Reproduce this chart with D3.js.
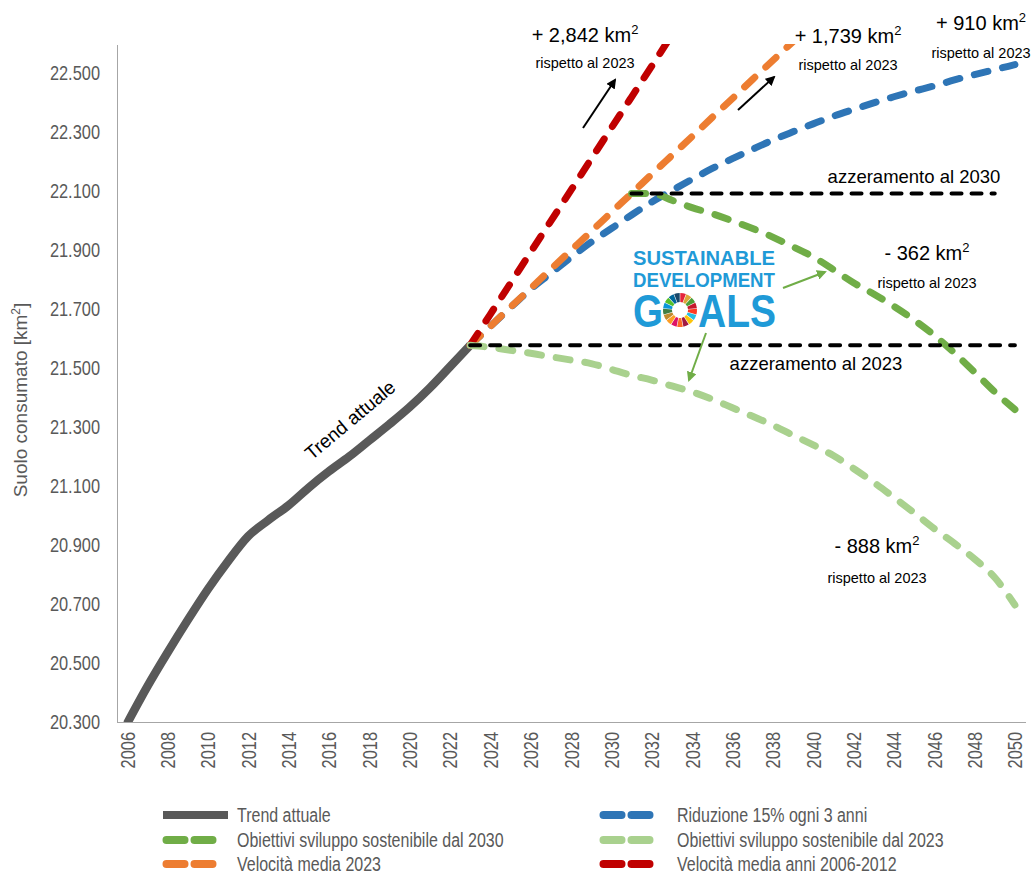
<!DOCTYPE html>
<html>
<head>
<meta charset="utf-8">
<script src="https://cdn.jsdelivr.net/npm/d3@7"></script>
<style>
body { margin: 0; background: #fff; }
svg text { font-family: "Liberation Sans", Arial, sans-serif; }
</style>
</head>
<body>
<div id="chart"></div>
<script>
// categories
var years = d3.range(2006, 2051);
var xTickYears = years.filter(function(d) { return d % 2 === 0; });
var yTicks = d3.range(20300, 22501, 200);

// Trend attuale 2006-2023 (km2)
var trendYears = d3.range(2006, 2024);
var trendValues = [20295, 20420, 20535, 20645, 20750, 20845, 20930, 20985, 21035, 21095,
                   21150, 21200, 21255, 21310, 21368, 21433, 21505, 21578];

// scenarios 2023-2050
var projYears = d3.range(2023, 2051);
var riduzione15 = [21578, 21642, 21706, 21768, 21822, 21876, 21928, 21974, 22020, 22064,
                   22103, 22141, 22178, 22211, 22243, 22274, 22302, 22329, 22355, 22378,
                   22400, 22421, 22440, 22458, 22478, 22496, 22513, 22530];
var velocita2023 = [21578, 21642, 21707, 21771, 21836, 21900, 21964, 22029, 22093, 22158,
                    22222, 22286, 22351, 22415, 22480, 22544, 22608, 22673, 22737, 22802,
                    22866, 22930, 22995, 23059, 23124, 23188, 23252, 23317];
var velocita0612 = [21578, 21683, 21788, 21894, 21999, 22104, 22210, 22315, 22420, 22525,
                    22631, 22736, 22841, 22947, 23052, 23157, 23262, 23368, 23473, 23578,
                    23684, 23789, 23894, 23999, 24105, 24210, 24315, 24420];
var sdg2023 = [21578, 21571, 21561, 21551, 21539, 21528, 21516, 21496, 21476, 21460,
               21440, 21420, 21395, 21366, 21337, 21307, 21273, 21240, 21204, 21160,
               21113, 21062, 21010, 20956, 20906, 20853, 20790, 20697];
var sdg2030Years = d3.range(2031, 2051);
var sdg2030 = [22093, 22093, 22070, 22045, 22024, 22000, 21974, 21945, 21912, 21878,
               21835, 21790, 21752, 21710, 21664, 21612, 21552, 21487, 21420, 21360];

// zero-growth reference lines
var azz2023Years = d3.range(2023, 2051);
var azz2023Value = 21578;
var azz2030Years = d3.range(2031, 2050);
var azz2030Value = 22093;

var legendLabels = ["Trend attuale", "Riduzione 15% ogni 3 anni",
                    "Obiettivi sviluppo sostenibile dal 2030", "Obiettivi sviluppo sostenibile dal 2023",
                    "Velocità media 2023", "Velocità media anni 2006-2012"];
var legendColors = ["#595959", "#2e75b6", "#70ad47", "#a9d18e", "#ed7d31", "#c00000"];

var sdgWheel = ["#e5243b", "#dda63a", "#4c9f38", "#c5192d", "#ff3a21", "#26bde2", "#fcc30b",
                "#a21942", "#fd6925", "#dd1367", "#fd9d24", "#bf8b2e", "#3f7e44", "#0a97d9",
                "#56c02b", "#00689d", "#19486a"];

var W = 1032, H = 875;
var plotLeft = 117, plotRight = 1025, plotTop = 44, plotBottom = 722;
var NARROW = 0.82; // Liberation Sans squeezed to look like Arial Narrow

var svg = d3.select("#chart").append("svg").attr("width", W).attr("height", H);

var x = d3.scalePoint().domain(years).range([plotLeft, plotRight]).padding(0.5);
var y = d3.scaleLinear().domain([20300, 22600]).range([plotBottom, plotTop]);

var itFormat = d3.formatLocale({decimal: ",", thousands: ".", grouping: [3], currency: ["", "€"]}).format(",");

svg.append("clipPath").attr("id", "plot")
  .append("rect").attr("x", plotLeft).attr("y", plotTop)
  .attr("width", W - plotLeft).attr("height", plotBottom - plotTop);

// axes
var yAxis = svg.append("g").attr("transform", "translate(" + plotLeft + ",0)")
  .call(d3.axisLeft(y).tickValues(yTicks).tickSize(0).tickSizeOuter(0).tickFormat(itFormat));
yAxis.select(".domain").attr("stroke", "#a6a6a6").attr("stroke-width", 1.3);
yAxis.selectAll("text").attr("font-size", 20).attr("fill", "#595959")
  .attr("x", -17 / NARROW).attr("transform", "scale(" + NARROW + ",1)");

var xAxis = svg.append("g").attr("transform", "translate(0," + plotBottom + ")")
  .call(d3.axisBottom(x).tickValues(xTickYears).tickSize(0).tickSizeOuter(0));
xAxis.select(".domain").attr("stroke", "#a6a6a6").attr("stroke-width", 1.3);
xAxis.selectAll("text").attr("font-size", 20).attr("fill", "#595959")
  .attr("transform", "rotate(-90) scale(" + NARROW + ",1)").attr("text-anchor", "end")
  .attr("x", -10 / NARROW).attr("y", 0).attr("dy", "0.35em");
yAxis.selectAll("path,line").attr("shape-rendering", "crispEdges");
xAxis.selectAll("path,line").attr("shape-rendering", "crispEdges");

var yTitle = svg.append("text").attr("transform", "translate(27,400) rotate(-90)")
  .attr("text-anchor", "middle").attr("font-size", 19).attr("fill", "#595959");
yTitle.append("tspan").text("Suolo consumato [km");
yTitle.append("tspan").attr("font-size", 12).attr("dy", -7).text("2");
yTitle.append("tspan").attr("dy", 7).text("]");

// lines
var line = d3.line()
  .x(function(d) { return x(d[0]); })
  .y(function(d) { return y(d[1]); })
  .curve(d3.curveMonotoneX);

var plot = svg.append("g").attr("clip-path", "url(#plot)");

function drawSeries(xs, vals, color, width, dash, cap) {
  plot.append("path")
    .datum(d3.zip(xs, vals))
    .attr("d", line)
    .attr("fill", "none")
    .attr("stroke", color)
    .attr("stroke-width", width)
    .attr("stroke-linecap", cap || "round")
    .attr("stroke-linejoin", "round")
    .attr("stroke-dasharray", dash);
}

drawSeries(trendYears, trendValues, "#595959", 8.5, null, "butt");
drawSeries(projYears, riduzione15, "#2e75b6", 7, "14 15");
drawSeries(projYears, velocita2023, "#ed7d31", 7, "14 15");
drawSeries(projYears, velocita0612, "#c00000", 7, "14 15");
drawSeries(projYears, sdg2023, "#a9d18e", 7, "14 15");
drawSeries(sdg2030Years, sdg2030, "#70ad47", 7, "14 15");
drawSeries(azz2023Years, azz2023Years.map(function() { return azz2023Value; }), "#000", 4, "10 10");
drawSeries(azz2030Years, azz2030Years.map(function() { return azz2030Value; }), "#000", 4, "10 10");

// arrows
var defs = svg.append("defs");
function marker(id, color) {
  defs.append("marker").attr("id", id).attr("viewBox", "0 0 10 10")
    .attr("refX", 8).attr("refY", 5).attr("markerWidth", 5).attr("markerHeight", 5)
    .attr("orient", "auto")
    .append("path").attr("d", "M0,0L10,5L0,10Z").attr("fill", color);
}
marker("arrBlack", "#000");
marker("arrGreen", "#70ad47");

function arrow(x1, y1, x2, y2, color, id) {
  svg.append("line").attr("x1", x1).attr("y1", y1).attr("x2", x2).attr("y2", y2)
    .attr("stroke", color).attr("stroke-width", 2).attr("marker-end", "url(#" + id + ")");
}
arrow(583, 128, 615, 80, "#000", "arrBlack");
arrow(738, 110, 774, 77, "#000", "arrBlack");
arrow(783, 288, 825, 272, "#70ad47", "arrGreen");
arrow(706, 333, 689, 380, "#70ad47", "arrGreen");

// annotations
function note(cx, by, big, small, smallY) {
  var t = svg.append("text").attr("x", cx).attr("y", by).attr("text-anchor", "middle")
    .attr("font-size", 20).attr("fill", "#000");
  t.append("tspan").text(big);
  t.append("tspan").attr("font-size", 13).attr("dy", -8).text("2");
  svg.append("text").attr("x", cx).attr("y", smallY).attr("text-anchor", "middle")
    .attr("font-size", 14.5).attr("fill", "#000").text(small);
}
note(585, 42, "+ 2,842 km", "rispetto al 2023", 68);
note(848, 43, "+ 1,739 km", "rispetto al 2023", 70);
note(981, 30, "+ 910 km", "rispetto al 2023", 58);
note(927, 260, "- 362 km", "rispetto al 2023", 288);
note(877, 553, "- 888 km", "rispetto al 2023", 583);

svg.append("text").attr("x", 914).attr("y", 183).attr("text-anchor", "middle")
  .attr("font-size", 18.5).attr("fill", "#000").text("azzeramento al 2030");
svg.append("text").attr("x", 816).attr("y", 370).attr("text-anchor", "middle")
  .attr("font-size", 18.5).attr("fill", "#000").text("azzeramento al 2023");

svg.append("text").attr("transform", "translate(350,420) rotate(-40)")
  .attr("text-anchor", "middle").attr("dy", "0.35em")
  .attr("font-size", 19).attr("fill", "#000").text("Trend attuale");

// SDG logo
var sdgBlue = "#1f9ad7";
var logo = svg.append("g");
logo.append("text").attr("x", 633).attr("y", 265).attr("font-size", 21).attr("font-weight", "bold")
  .attr("fill", sdgBlue).attr("textLength", 142).attr("lengthAdjust", "spacingAndGlyphs").text("SUSTAINABLE");
logo.append("text").attr("x", 633).attr("y", 287).attr("font-size", 21).attr("font-weight", "bold")
  .attr("fill", sdgBlue).attr("textLength", 142).attr("lengthAdjust", "spacingAndGlyphs").text("DEVELOPMENT");
logo.append("text").attr("x", 633).attr("y", 327).attr("font-size", 47).attr("font-weight", "bold")
  .attr("fill", sdgBlue).attr("textLength", 30).attr("lengthAdjust", "spacingAndGlyphs").text("G");
logo.append("text").attr("x", 698).attr("y", 327).attr("font-size", 47).attr("font-weight", "bold")
  .attr("fill", sdgBlue).attr("textLength", 78).attr("lengthAdjust", "spacingAndGlyphs").text("ALS");
var pie = d3.pie().value(function() { return 1; }).sort(null).padAngle(0.03);
var arc = d3.arc().innerRadius(8).outerRadius(17);
logo.append("g").attr("transform", "translate(680,310)")
  .selectAll("path").data(pie(sdgWheel)).enter().append("path")
  .attr("d", arc).attr("fill", function(d) { return d.data; });

// legend
var legendPos = [[163, 237, 815], [600, 677, 815], [163, 237, 840], [600, 677, 840], [163, 237, 864], [600, 677, 864]];
var legend = svg.append("g");
legendLabels.forEach(function(label, i) {
  var p = legendPos[i];
  if (i === 0) {
    legend.append("line").attr("x1", p[0]).attr("x2", p[0] + 65).attr("y1", p[2]).attr("y2", p[2])
      .attr("stroke", legendColors[i]).attr("stroke-width", 8);
  } else {
    legend.append("line").attr("x1", p[0] + 3.5).attr("x2", p[0] + 52).attr("y1", p[2]).attr("y2", p[2])
      .attr("stroke", legendColors[i]).attr("stroke-width", 8).attr("stroke-linecap", "round")
      .attr("stroke-dasharray", "18 10");
  }
  legend.append("text").attr("transform", "translate(" + p[1] + "," + p[2] + ") scale(" + NARROW + ",1)")
    .attr("dy", "0.35em").attr("font-size", 19.5).attr("fill", "#595959").text(label);
});
</script>
</body>
</html>
